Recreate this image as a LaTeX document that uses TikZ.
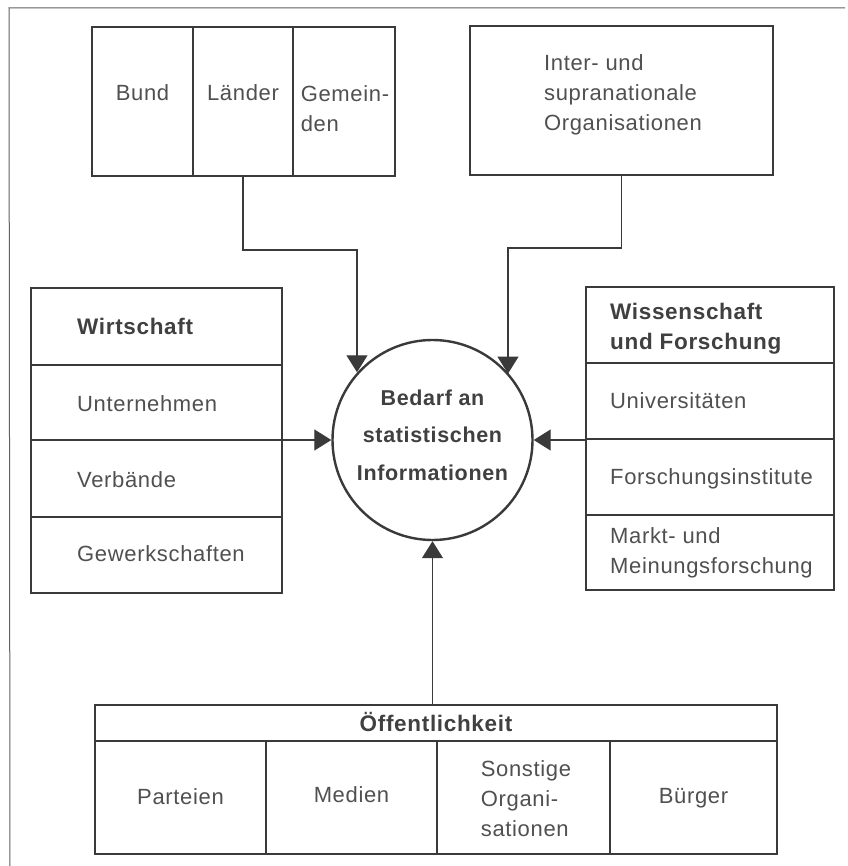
\documentclass[tikz,border=0pt]{standalone}
\usepackage{fontspec}
\setmainfont{Liberation Sans}[LetterSpace=3]
\usetikzlibrary{arrows.meta}
\definecolor{ink}{HTML}{3A3A3A}
\definecolor{txt}{HTML}{505050}
\definecolor{txtb}{HTML}{404040}
\begin{document}
\begin{tikzpicture}[x=1pt,y=-1pt,
  outline/.style 2 args={draw=ink, line width=2.2pt, inner sep=0pt, minimum width=#1pt, minimum height=#2pt},
  divider/.style={draw=ink, line width=1.1pt},
  lbl/.style={text=txt, inner sep=0pt, font=\fontsize{22}{30}\selectfont},
  lblb/.style={text=txtb, inner sep=0pt, font=\fontsize{22.5}{30}\selectfont\bfseries},
  conn/.style={draw=ink, line width=1.2pt, -{Triangle[length=17pt,width=21pt]}},
  frameline/.style={draw=ink!80, line width=1pt}]
\useasboundingbox (0,0) rectangle (847,866);
\fill[white] (0,0) rectangle (847,866);
% frame
\draw[frameline] (845,8) -- (9,8) -- (10,866);

% top-left box
\draw[divider] (193,27) -- (193,176);
\draw[divider] (293,27) -- (293,176);
\node[outline={303}{149}] (tlbox) at (243.5,101.5) {};
\node[lbl, anchor=base] (bund) at (142.5,101) {Bund};
\node[lbl, anchor=base] (laender) at (243,101) {Länder};
\node[lbl, align=left] (gemeinden) at (345,109) {Gemein-\\den};

% top-right box
\node[outline={303}{149}] (intbox) at (621.5,100.5) {};
\node[lbl, align=left] (inter) at (623,95) {Inter- und\\supranationale\\Organisationen};

% Wirtschaft
\draw[divider] (31,365) -- (282,365);
\draw[divider] (31,440) -- (282,440);
\draw[divider] (31,517) -- (282,517);
\node[outline={251}{305}] (wirt) at (156.5,440.5) {};
\node[lblb, anchor=base west] (wirtT) at (77,334) {Wirtschaft};
\node[lbl, anchor=base west] (unter) at (77,411) {Unternehmen};
\node[lbl, anchor=base west] (verb) at (77,487) {Verbände};
\node[lbl, anchor=base west] (gew) at (77,561.5) {Gewerkschaften};

% Wissenschaft
\draw[divider] (586,363) -- (834,363);
\draw[divider] (586,439) -- (834,439);
\draw[divider] (586,515) -- (834,515);
\node[outline={248}{303}] (wiss) at (710,438.5) {};
\node[lblb, anchor=west, align=left] (wissT) at (610,329) {Wissenschaft\\und Forschung};
\node[lbl, anchor=base west] (uni) at (610,408) {Universitäten};
\node[lbl, anchor=base west] (finst) at (610,484) {Forschungsinstitute};
\node[lbl, anchor=west, align=left] (markt) at (610,553) {Markt- und\\Meinungsforschung};

% Oeffentlichkeit
\draw[divider] (95,741) -- (777,741);
\draw[divider] (266,741) -- (266,854);
\draw[divider] (437,741) -- (437,854);
\draw[divider] (610,741) -- (610,854);
\node[outline={682}{149}] (oeff) at (436,779.5) {};
\node[lblb, anchor=base] (oeffT) at (436,731) {Öffentlichkeit};
\node[lbl, anchor=base] (parteien) at (180.5,804) {Parteien};
\node[lbl, anchor=base] (medien) at (351.5,802.5) {Medien};
\node[lbl, align=left] (sonst) at (526,799) {Sonstige\\Organi-\\sationen};
\node[lbl, anchor=base] (buerger) at (693.5,803) {Bürger};

% centre circle
\node[circle, draw=ink, line width=2.4pt, minimum size=200pt, inner sep=0pt] (circ) at (432.5,440) {};
\node[text=txtb, align=center, inner sep=0pt, font=\fontsize{21.5}{37.5}\selectfont\bfseries] (circT) at (432.5,435)
      {Bedarf an\\statistischen\\Informationen};

% connectors
\coordinate (k1) at (357,250);
\coordinate (k2) at (508,248);
\draw[conn] (tlbox.south -| laender) |- (k1) -- (k1 |- circ.138.6);
\draw[conn] (intbox.south) |- (k2) -- (k2 |- circ.41.4);
\draw[conn] (wirt.east |- circ.west) -- (circ.west);
\draw[conn] (wiss.west |- circ.east) -- (circ.east);
\draw[conn] (oeff.north -| circ.south) -- (circ.south);
\end{tikzpicture}
\end{document}
